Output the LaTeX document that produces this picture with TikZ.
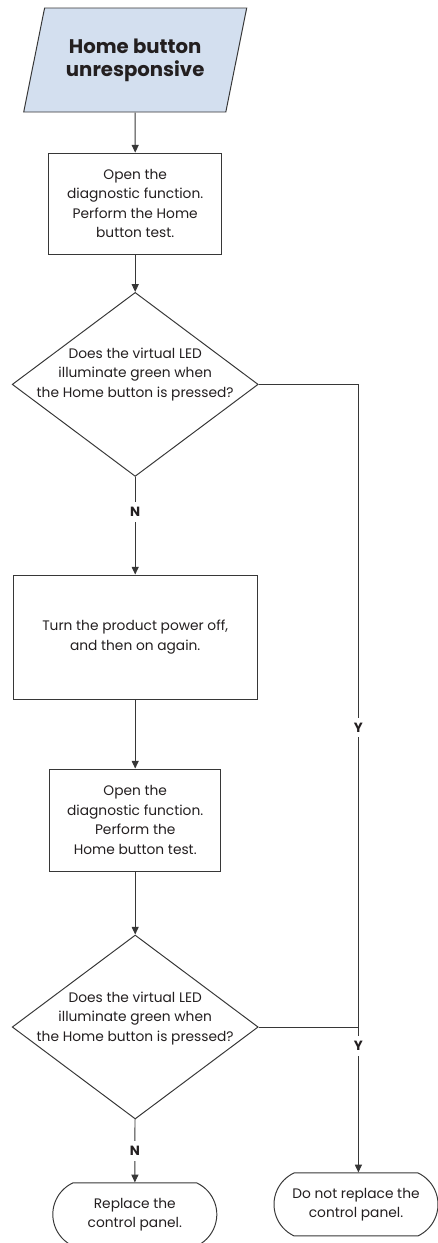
\documentclass[tikz,border=0pt]{standalone}
\usepackage{fontspec}
\setmainfont{Poppins}
\usepackage{tikz}
\usetikzlibrary{shapes,shapes.geometric,shapes.misc,arrows.meta,positioning,calc}

\definecolor{startblue}{RGB}{211,223,239}
\definecolor{linegray}{RGB}{55,55,55}
\definecolor{inkblack}{RGB}{35,31,32}
\newcommand{\boxfont}{\fontsize{9.8pt}{13.8pt}\selectfont}
\newcommand{\titlefont}{\fontsize{14pt}{16.4pt}\selectfont\bfseries}

\begin{document}
\begin{tikzpicture}[
  box/.style={rectangle, draw=linegray, line width=0.7pt, align=center,
    inner sep=0pt, font=\boxfont, text=inkblack},
  startbox/.style={trapezium, trapezium left angle=64, trapezium right angle=116,
    trapezium stretches body, draw=linegray, fill=startblue, line width=0.7pt,
    minimum width=5.575cm, minimum height=2.6cm, inner sep=0pt, align=center,
    font=\titlefont, text=inkblack},
  decision/.style={diamond, draw=linegray, line width=0.7pt,
    minimum width=6.15cm, minimum height=4.6cm, inner sep=0pt},
  qtext/.style={align=center, font=\boxfont, text=inkblack},
  terminal/.style={rounded rectangle, rounded rectangle arc length=130,
    draw=linegray, line width=0.7pt, minimum width=4.1cm, minimum height=1.575cm,
    inner sep=0pt, align=center, font=\boxfont, text=inkblack},
  arr/.style={-{Triangle[length=5.5pt,width=5pt]}, draw=linegray, line width=0.7pt},
  conn/.style={draw=linegray, line width=0.7pt},
  yn/.style={fill=white, font=\fontsize{9.5pt}{10pt}\selectfont\bfseries,
    text=inkblack, inner xsep=1pt, inner ysep=3.5pt}
]
\useasboundingbox (0,0) rectangle (10.95,-31.075);

\node[startbox] (start) at (3.38,-1.5) {Home button\\unresponsive};
\node[box, minimum width=4.325cm, minimum height=2.525cm] (open1) at (3.38,-5.09)
  {Open the\\diagnostic function.\\Perform the Home\\button test.};
\node[decision] (dec1) at (3.38,-9.61) {};
\node[qtext] (q1) at ([yshift=0.25cm]dec1.center)
  {Does the virtual LED\\illuminate green when\\the Home button is pressed?};
\node[box, minimum width=6.1cm, minimum height=3.1cm] (power) at (3.38,-15.925)
  {Turn the product power off,\\and then on again.};
\node[box, minimum width=4.275cm, minimum height=2.55cm] (open2) at (3.38,-20.5)
  {Open the\\diagnostic function.\\Perform the\\Home button test.};
\node[decision] (dec2) at (3.38,-25.675) {};
\node[qtext] (q2) at ([yshift=0.22cm]dec2.center)
  {Does the virtual LED\\illuminate green when\\the Home button is pressed?};
\node[terminal] (replace) at (3.37,-30.36) {Replace the\\control panel.};
\node[terminal] (noreplace) at (8.9,-30.11) {Do not replace the\\control panel.};
\coordinate (join) at (8.96,-25.675);

\draw[arr] (start) -- (open1);
\draw[arr] (open1) -- (dec1);
\draw[arr] (dec1) -- node[yn, pos=0.36] {N} (power);
\draw[arr] (power) -- (open2);
\draw[arr] (open2) -- (dec2);
\draw[arr] (dec2) -- node[yn] {N} (replace);
\draw[conn] (dec1.east) -| node[yn, pos=0.767] {Y} (join);
\draw[conn] (dec2.east) -- (join);
\draw[arr] (join) -- node[yn, pos=0.13] {Y} (join |- noreplace.north);
\end{tikzpicture}
\end{document}
